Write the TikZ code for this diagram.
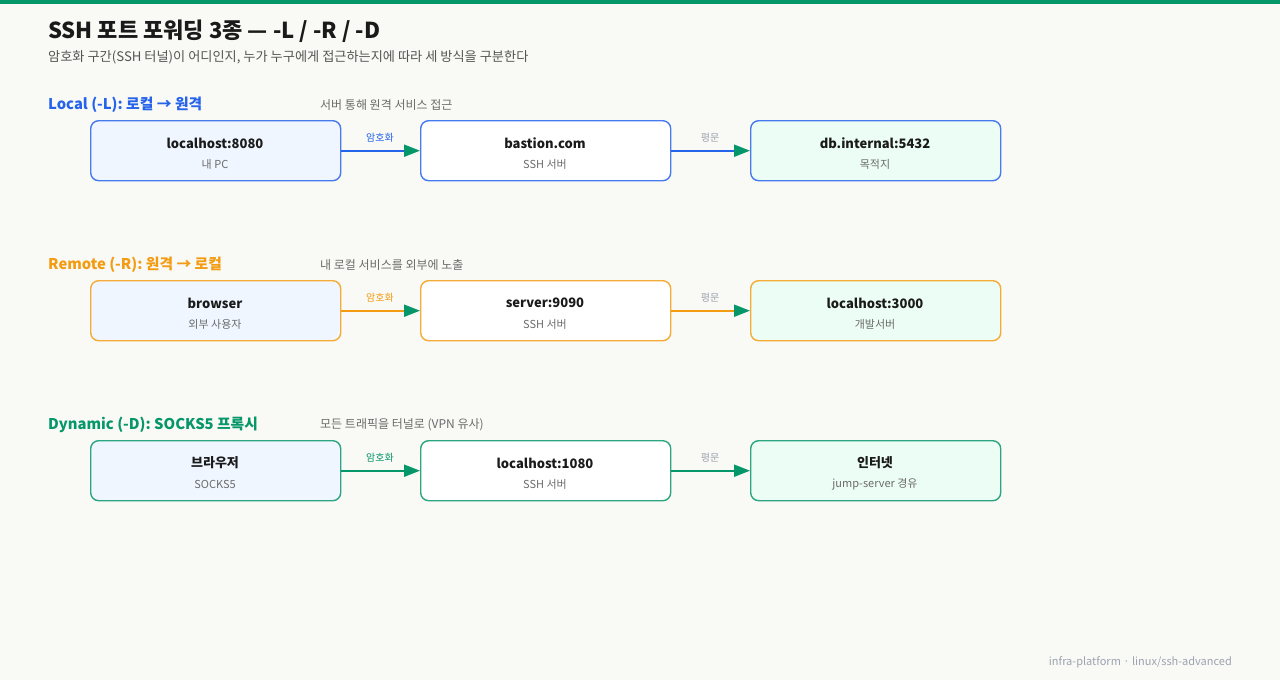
\documentclass[tikz,border=0pt]{standalone}
\usepackage{fontspec}
\setmainfont{Noto Sans CJK KR}
\usetikzlibrary{arrows.meta}
\definecolor{bg}{HTML}{F9F9F6}
\definecolor{topbar}{HTML}{059669}
\definecolor{ink}{HTML}{1A1A1A}
\definecolor{subink}{HTML}{555555}
\definecolor{muted}{HTML}{6B6B6B}
\definecolor{faint}{HTML}{9CA3AF}
\definecolor{cblue}{HTML}{2563EB}
\definecolor{corange}{HTML}{F39C12}
\definecolor{cgreen}{HTML}{059669}
\definecolor{fillblue}{HTML}{EFF6FF}
\definecolor{fillgreen}{HTML}{ECFDF5}
\tikzset{
  boxnode/.style={draw=#1, line width=1.4pt, rounded corners=8pt, minimum width=250pt, minimum height=60pt, inner sep=0pt, anchor=north west},
  boxtitle/.style={font=\fontsize{13}{15}\selectfont\bfseries, text=ink, anchor=center},
  boxsub/.style={font=\fontsize{11}{13}\selectfont, text=muted, anchor=center},
  heading/.style={font=\fontsize{14.8}{18}\selectfont\bfseries, text=#1, anchor=west, inner sep=0pt},
  desc/.style={font=\fontsize{12}{14}\selectfont, text=muted, anchor=west, inner sep=0pt},
  conn/.style={draw=#1, line width=2pt, -{Triangle[length=16pt,width=12pt,color=cgreen]}},
  conlabel/.style={font=\fontsize{10}{12}\selectfont, text=#1, anchor=center}
}
\begin{document}
\begin{tikzpicture}[x=1pt,y=-1pt]
\useasboundingbox (0,0) rectangle (1280,680);
\fill[bg] (0,0) rectangle (1280,680);
\fill[topbar] (0,0) rectangle (1280,4);
\node[font=\fontsize{22}{26}\selectfont\bfseries, text=ink, anchor=west, inner sep=0pt] (title) at (48,31) {SSH 포트 포워딩 3종 — -L / -R / -D};
\node[font=\fontsize{13.2}{15}\selectfont, text=subink, anchor=west, inner sep=0pt] (subtitle) at (48,57) {암호화 구간(SSH 터널)이 어디인지, 누가 누구에게 접근하는지에 따라 세 방식을 구분한다};

\foreach \yy/\col/\hd/\ds/\ta/\sa/\tb/\sb/\tc/\sc/\nm in {
  0/cblue/{Local (-L): 로컬 → 원격}/{서버 통해 원격 서비스 접근}/{localhost:8080}/{내 PC}/{bastion.com}/{SSH 서버}/{db.internal:5432}/{목적지}/l,
  160/corange/{Remote (-R): 원격 → 로컬}/{내 로컬 서비스를 외부에 노출}/{browser}/{외부 사용자}/{server:9090}/{SSH 서버}/{localhost:3000}/{개발서버}/r,
  320/cgreen/{Dynamic (-D): SOCKS5 프록시}/{모든 트래픽을 터널로 (VPN 유사)}/{브라우저}/{SOCKS5}/{localhost:1080}/{SSH 서버}/{인터넷}/{jump-server 경유}/d} {
  \node[heading=\col] (h\nm) at (48,105+\yy) {\hd};
  \node[desc] (ds\nm) at (320,105+\yy) {\ds};
  \node[boxnode=\col!85, fill=fillblue] (a\nm) at (90,120+\yy) {};
  \node[boxnode=\col!85, fill=white] (b\nm) at (420,120+\yy) {};
  \node[boxnode=\col!85, fill=fillgreen] (c\nm) at (750,120+\yy) {};
  \node[boxtitle] (at\nm) at (215,143+\yy) {\ta};
  \node[boxsub] (as\nm) at (215,164+\yy) {\sa};
  \node[boxtitle] (bt\nm) at (545,143+\yy) {\tb};
  \node[boxsub] (bs\nm) at (545,164+\yy) {\sb};
  \node[boxtitle] (ct\nm) at (875,143+\yy) {\tc};
  \node[boxsub] (cs\nm) at (875,164+\yy) {\sc};
  \draw[conn=\col] (a\nm.east) -- (b\nm.west);
  \draw[conn=\col] (b\nm.east) -- (c\nm.west);
  \node[conlabel=\col] (e\nm) at (380,138+\yy) {암호화};
  \node[conlabel=faint] (p\nm) at (710,138+\yy) {평문};
}
\node[font=\fontsize{11}{13}\selectfont, text=faint, anchor=east, inner sep=0pt] (footer) at (1232,662) {infra-platform · linux/ssh-advanced};
\end{tikzpicture}
\end{document}
